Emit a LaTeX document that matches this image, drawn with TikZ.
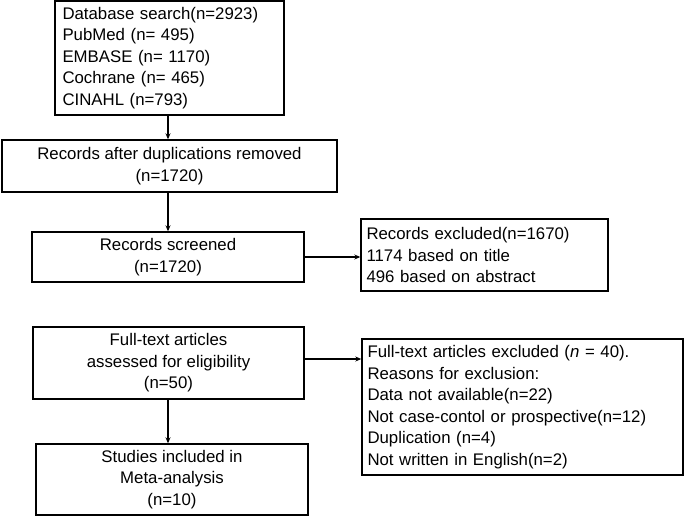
\documentclass[tikz,border=0pt]{standalone}
\usepackage{fontspec}
\setmainfont{Liberation Sans}
\usetikzlibrary{arrows.meta}
\begin{document}
\begin{tikzpicture}[x=1pt,y=-1pt,
  box/.style={draw,line width=1.4pt,inner sep=0pt,font=\fontsize{16.8}{21.5}\selectfont},
  arr/.style={line width=1.4pt,-{Stealth[length=6pt,width=5pt]}}]
\useasboundingbox (0,0) rectangle (685,517);
\node[box,minimum width=229pt,minimum height=114pt,align=left,text width=214pt] (b1) at (169.5,58) {Database search(n=2923)\\PubMed (n= 495)\\EMBASE (n= 1170)\\Cochrane (n= 465)\\CINAHL (n=793)};
\node[box,minimum width=335pt,minimum height=52pt,align=center] (b2) at (169.5,166) {Records after duplications removed\\(n=1720)};
\node[box,minimum width=272pt,minimum height=50pt,align=center] (b3) at (168,257) {Records screened\\(n=1720)};
\node[box,minimum width=271pt,minimum height=72pt,align=center] (b4) at (168.5,363) {Full-text articles\\assessed for eligibility\\(n=50)};
\node[box,minimum width=272pt,minimum height=71pt,align=center] (b5) at (172,479.5) {Studies included in\\Meta-analysis\\(n=10)};
\node[box,minimum width=247pt,minimum height=72pt,align=left,text width=236pt] (r1) at (484.5,255) {Records excluded(n=1670)\\1174 based on title\\496 based on abstract};
\node[box,minimum width=321pt,minimum height=136pt,align=left,text width=310pt] (r2) at (522.5,407) {Full-text articles excluded (\textit{n} = 40).\\Reasons for exclusion:\\Data not available(n=22)\\Not case-contol or prospective(n=12)\\Duplication (n=4)\\Not written in English(n=2)};
\coordinate (b4e) at ([yshift=4pt]b4.east);
\draw[arr] ([xshift=-1.5pt]b1.south) -- ([xshift=-1.5pt]b1.south |- b2.north);
\draw[arr] (b3.north |- b2.south) -- (b3.north);
\draw[arr] ([xshift=-0.5pt]b4.south) -- ([xshift=-0.5pt]b4.south |- b5.north);
\draw[arr] (b3.east) -- (r1.west |- b3.east);
\draw[arr] (b4e) -- (r2.west |- b4e);
\end{tikzpicture}
\end{document}
